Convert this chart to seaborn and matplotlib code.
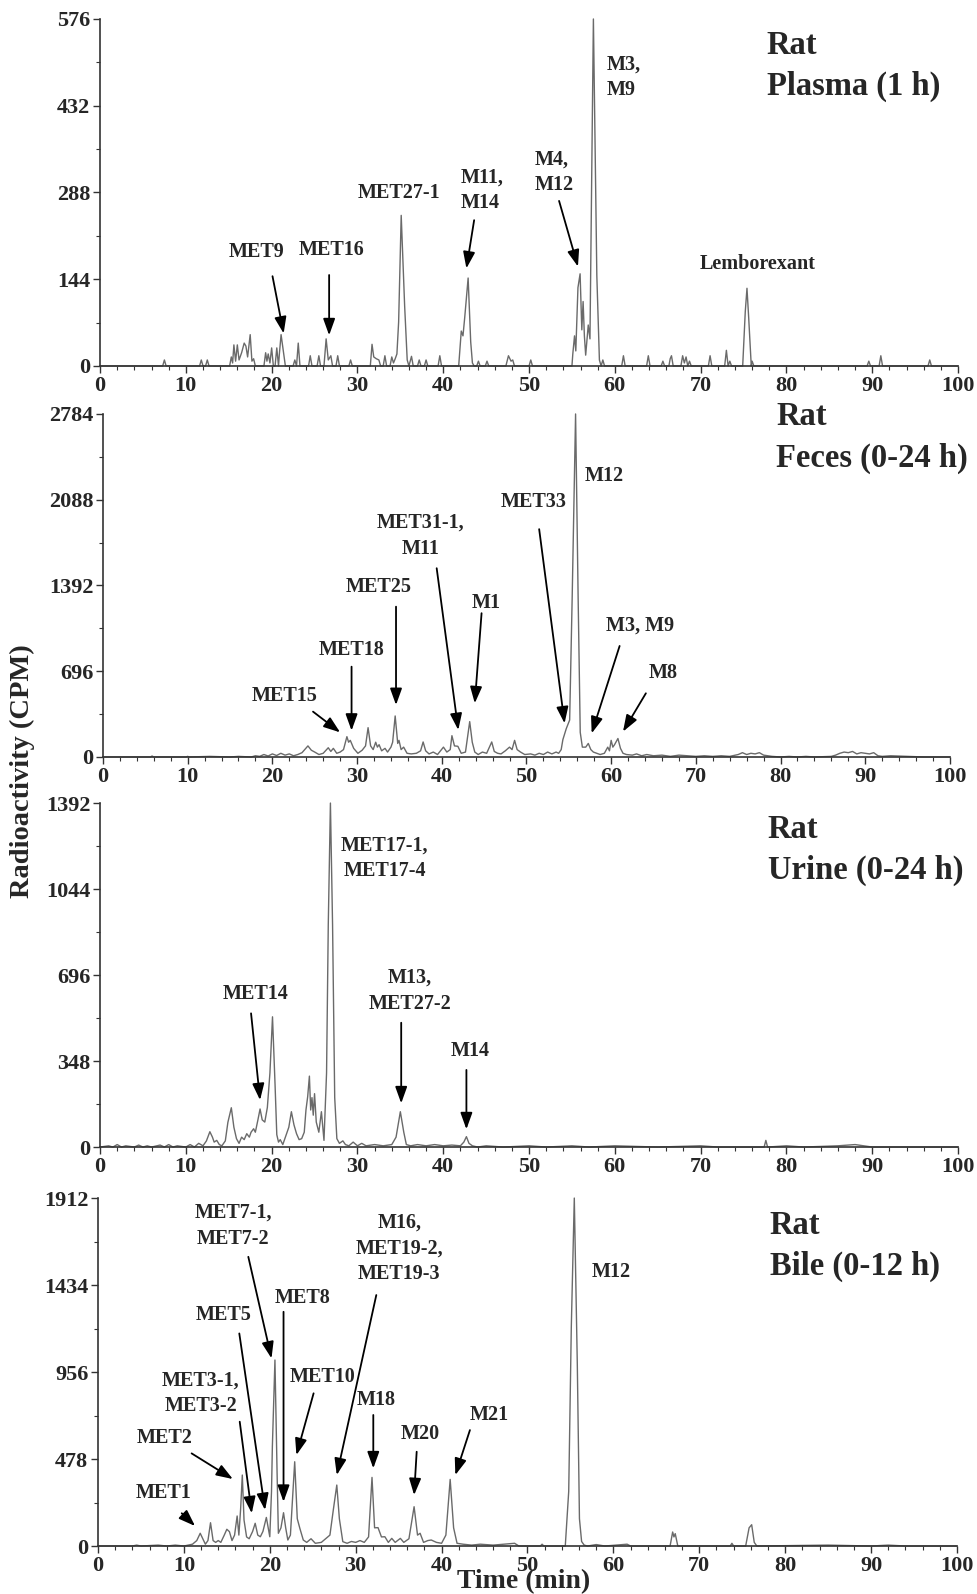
import pandas as pd
import matplotlib.pyplot as plt
import seaborn as sns
from matplotlib.ticker import MultipleLocator

# radiochromatogram traces: (time in min, radioactivity in CPM)
plasma_trace = [
    (0, 0), (7.3, 0), (7.5, 10), (7.7, 0), (11.6, 0), (11.8, 10), (12.0, 0), (12.3, 0), (12.5, 10), (12.7, 0),
    (15.1, 0), (15.3, 15), (15.45, 5), (15.6, 35), (15.8, 8), (16.0, 35), (16.2, 10), (16.5, 22), (16.8, 38),
    (17.0, 33), (17.2, 15), (17.5, 52), (17.7, 8), (17.9, 12), (18.1, 0),
    (19.1, 0), (19.3, 22), (19.45, 8), (19.6, 20), (19.8, 5), (20.0, 30), (20.2, 0), (20.4, 0), (20.6, 30),
    (20.8, 0), (20.9, 20), (21.1, 52), (21.4, 20), (21.6, 0),
    (22.5, 0), (22.7, 10), (22.9, 0), (23.1, 38), (23.3, 0),
    (24.3, 0), (24.5, 17), (24.7, 0), (25.3, 0), (25.5, 17), (25.7, 0), (26.1, 0), (26.35, 45), (26.6, 10),
    (26.9, 17), (27.1, 0), (27.5, 0), (27.7, 17), (27.9, 0), (29.0, 0), (29.2, 10), (29.4, 0),
    (31.5, 0), (31.7, 36), (31.9, 15), (32.2, 12), (32.5, 10), (32.7, 0), (33.0, 0), (33.2, 17), (33.4, 0),
    (33.8, 0), (34.0, 15), (34.2, 5), (34.4, 12), (34.6, 20), (34.8, 73), (35.1, 250), (35.5, 100), (35.8, 10),
    (36.0, 0), (36.3, 16), (36.5, 0), (37.0, 0), (37.2, 10), (37.4, 0), (37.8, 0), (38.0, 10), (38.2, 0),
    (39.4, 0), (39.6, 17), (39.8, 0),
    (41.8, 0), (42.1, 58), (42.3, 50), (42.5, 80), (42.9, 146), (43.2, 40), (43.4, 5), (43.6, 0),
    (43.9, 0), (44.1, 8), (44.3, 0), (44.9, 0), (45.1, 8), (45.3, 0), (47.3, 0), (47.6, 17), (47.9, 8),
    (48.1, 10), (48.3, 0), (50.0, 0), (50.2, 10), (50.4, 0),
    (55.0, 0), (55.1, 20), (55.3, 50), (55.45, 25), (55.7, 130), (55.95, 153), (56.15, 60), (56.3, 107),
    (56.45, 50), (56.6, 18), (56.8, 50), (56.9, 68), (57.1, 45), (57.5, 576), (57.9, 150), (58.2, 10),
    (58.4, 0), (58.6, 10), (58.8, 0),
    (60.8, 0), (61.0, 17), (61.2, 0), (63.7, 0), (63.9, 17), (64.1, 0), (65.4, 0), (65.6, 8), (65.8, 0),
    (66.3, 0), (66.45, 12), (66.6, 17), (66.8, 0), (67.7, 0), (67.9, 17), (68.1, 5), (68.3, 15), (68.5, 0),
    (68.7, 8), (68.9, 0), (70.9, 0), (71.1, 17), (71.3, 0), (72.8, 0), (73.0, 26), (73.2, 0), (73.4, 8),
    (73.6, 0), (74.9, 0), (75.2, 90), (75.4, 129), (75.6, 80), (75.9, 0), (76.0, 8), (76.2, 0),
    (89.4, 0), (89.6, 8), (89.8, 0), (90.8, 0), (91.0, 17), (91.2, 0), (96.5, 0), (96.7, 10), (96.9, 0), (100, 0),
]

feces_trace = [
    (0, 0), (5.6, 0), (5.8, 8), (6.0, 0), (9.8, 0), (10, 5), (10.2, 0), (12.6, 5), (15, 0), (16, 5), (17.5, 0),
    (18, 10), (18.5, 5), (19, 20), (19.5, 8), (20, 25), (20.5, 12), (21, 30), (21.5, 15), (22, 25), (22.5, 10),
    (23, 20), (23.5, 35), (24.2, 90), (24.6, 55), (25, 40), (25.5, 20), (26, 30), (26.6, 75), (26.9, 45),
    (27.2, 70), (27.6, 30), (28, 40), (28.4, 60), (28.8, 165), (29.0, 120), (29.2, 135), (29.6, 70), (30.1, 30),
    (30.6, 55), (31.0, 90), (31.3, 238), (31.6, 90), (31.9, 60), (32.2, 120), (32.4, 80), (32.6, 100),
    (32.9, 50), (33.3, 70), (33.6, 40), (34.0, 80), (34.2, 120), (34.5, 333), (34.8, 110), (34.95, 135),
    (35.2, 60), (35.5, 80), (35.9, 30), (36.4, 25), (37, 30), (37.5, 50), (37.8, 122), (38.1, 50), (38.5, 25),
    (39, 40), (39.5, 20), (40.2, 80), (40.6, 40), (41.0, 60), (41.2, 173), (41.5, 90), (41.9, 87), (42.3, 30),
    (42.8, 40), (43.3, 287), (43.6, 120), (43.9, 40), (44.3, 20), (44.8, 40), (45.3, 30), (45.9, 122),
    (46.2, 45), (46.6, 30), (47, 25), (47.5, 50), (48.0, 80), (48.3, 60), (48.6, 135), (48.9, 60), (49.3, 40),
    (49.8, 20), (50.5, 25), (51, 15), (51.5, 30), (52, 20), (52.5, 40), (53, 25), (53.5, 40), (53.8, 30),
    (54.1, 60), (54.3, 141), (54.7, 230), (55.1, 300), (55.4, 1300), (55.8, 2784), (56.1, 1300), (56.35, 200),
    (56.6, 80), (57.0, 80), (57.3, 110), (57.6, 60), (57.9, 40), (58.3, 30), (58.7, 20), (59.2, 30),
    (59.6, 80), (59.8, 50), (60.0, 135), (60.2, 80), (60.4, 100), (60.8, 150), (61.1, 70), (61.4, 30),
    (61.8, 20), (62.5, 15), (63, 25), (63.6, 10), (64.2, 20), (65, 10), (66, 15), (67, 5), (68, 15), (69, 10),
    (70, 5), (71, 10), (72, 5), (73, 10), (74, 5), (75, 20), (75.5, 35), (76, 20), (76.5, 30), (77, 25),
    (77.5, 35), (78, 15), (79, 5), (80, 0), (81, 5), (82, 0), (83, 5), (84, 0), (86, 5), (86.5, 15), (87, 30),
    (87.5, 40), (88, 35), (88.5, 45), (89, 25), (89.5, 35), (90, 30), (90.5, 25), (91, 35), (91.5, 10),
    (92, 5), (93, 10), (95, 5), (97, 0), (100, 0),
]

urine_trace = [
    (0, 0), (1, 5), (1.5, 0), (2, 10), (2.5, 0), (3, 5), (4, 0), (4.5, 8), (5, 0), (5.5, 5), (6, 0), (7, 8),
    (7.5, 0), (8, 10), (8.5, 0), (9, 5), (10, 0), (10.5, 10), (11, 0), (11.5, 15), (12, 5), (12.4, 25),
    (12.8, 62), (13.1, 40), (13.3, 20), (13.6, 27), (13.9, 10), (14.2, 5), (14.6, 25), (14.9, 100), (15.3, 159),
    (15.6, 80), (15.9, 34), (16.2, 15), (16.5, 40), (16.8, 30), (17.1, 54), (17.4, 40), (17.6, 60), (17.9, 74),
    (18.1, 60), (18.4, 110), (18.65, 154), (18.9, 110), (19.2, 101), (19.5, 160), (19.8, 300), (20.1, 527),
    (20.4, 250), (20.6, 50), (20.8, 20), (21.0, 30), (21.3, 10), (21.6, 40), (22.0, 80), (22.3, 143),
    (22.6, 90), (22.9, 54), (23.2, 30), (23.5, 34), (23.8, 60), (24.0, 150), (24.2, 204), (24.4, 287),
    (24.55, 150), (24.7, 200), (24.85, 129), (25.0, 216), (25.2, 101), (25.5, 60), (25.8, 143), (26.1, 27),
    (26.4, 300), (26.6, 900), (26.85, 1392), (27.1, 900), (27.35, 200), (27.6, 34), (27.9, 15), (28.3, 25),
    (28.6, 10), (29, 5), (29.5, 20), (30, 5), (30.5, 15), (31, 5), (32, 10), (33, 5), (34, 10), (34.5, 40),
    (35.0, 143), (35.4, 60), (35.7, 10), (36.2, 5), (37, 10), (38, 5), (39, 10), (40, 5), (41, 8), (42, 5),
    (42.4, 20), (42.7, 42), (43.0, 15), (43.4, 5), (44, 0), (45, 5), (47, 0), (50, 5), (52, 0), (55, 5),
    (57, 0), (60, 5), (65, 0), (70, 5), (72, 0), (77.4, 0), (77.6, 27), (77.8, 0), (80, 5), (82, 0), (86, 5),
    (88, 10), (90, 0), (100, 0),
]

bile_trace = [
    (0, 0), (4, 0), (4.5, 5), (5, 0), (7, 5), (8, 0), (9, 5), (10, 0), (11, 10), (11.5, 30), (11.9, 70),
    (12.2, 40), (12.5, 10), (12.8, 30), (13.1, 128), (13.4, 30), (13.7, 20), (14.0, 30), (14.3, 20), (14.7, 60),
    (15.0, 92), (15.3, 79), (15.6, 30), (15.9, 60), (16.2, 165), (16.4, 60), (16.6, 200), (16.8, 390),
    (17.0, 143), (17.3, 50), (17.6, 40), (18.0, 80), (18.3, 125), (18.6, 60), (18.9, 51), (19.2, 80),
    (19.6, 157), (20.0, 51), (20.2, 300), (20.3, 546), (20.6, 1022), (20.85, 400), (21.0, 70), (21.3, 100),
    (21.6, 183), (21.85, 100), (22.1, 33), (22.4, 60), (22.9, 463), (23.2, 150), (23.5, 97), (23.9, 33),
    (24.3, 20), (24.8, 40), (25.3, 15), (26, 20), (26.5, 40), (27.0, 60), (27.4, 200), (27.8, 335),
    (28.1, 150), (28.5, 24), (29, 15), (29.5, 25), (30, 20), (30.5, 30), (31, 20), (31.5, 50), (31.9, 377),
    (32.2, 100), (32.6, 101), (33.0, 50), (33.4, 51), (33.8, 20), (34.2, 42), (34.6, 20), (35.2, 42),
    (35.6, 20), (36.2, 40), (36.8, 216), (37.2, 60), (37.5, 70), (37.9, 20), (38.4, 30), (38.8, 33),
    (39.4, 20), (40, 15), (40.5, 60), (41.0, 366), (41.4, 100), (41.8, 15), (42.5, 10), (43.5, 5), (44.5, 10),
    (46, 5), (48.5, 15), (49, 0), (51.5, 0), (51.7, 10), (51.9, 0), (54.4, 0), (54.8, 300), (55.1, 1200),
    (55.45, 1912), (55.8, 1000), (56.05, 150), (56.3, 25), (56.6, 5), (57, 0), (58, 8), (59, 0), (61.6, 10),
    (62, 0), (66.6, 0), (66.9, 77), (67.05, 50), (67.2, 68), (67.5, 0), (73.6, 0), (73.8, 15), (74, 0),
    (75.4, 0), (75.8, 100), (76.1, 117), (76.4, 20), (76.7, 0), (85, 5), (90, 0), (92, 5), (94, 0), (100, 0),
]

y_max = [576, 2784, 1392, 1912]
panel_titles = ["Rat\nPlasma (1 h)", "Rat\nFeces (0-24 h)", "Rat\nUrine (0-24 h)", "Rat\nBile (0-12 h)"]

# peak labels: (text, time, cpm, alignment)
plasma_labels = [("MET9", 18.2, 189, "center"), ("MET16", 27.0, 193, "center"),
                 ("MET27-1", 34.9, 287, "center"), ("M11,\nM14", 42.0, 292, "left"),
                 ("M4,\nM12", 50.7, 321, "left"), ("M3,\nM9", 59.05, 479, "left"),
                 ("Lemborexant", 76.6, 170, "center")]
feces_labels = [("M12", 56.9, 2282, "left"), ("MET33", 50.8, 2073, "center"),
                ("M3, M9", 63.4, 1064, "center"), ("M8", 66.1, 685, "center"),
                ("MET31-1,\nM11", 37.5, 1796, "center"), ("M1", 45.2, 1250, "center"),
                ("MET25", 32.5, 1383, "center"), ("MET18", 29.4, 869, "center"),
                ("MET15", 21.5, 495, "center")]
urine_labels = [("MET17-1,\nMET17-4", 33.2, 1168, "center"), ("MET14", 18.1, 618, "center"),
                ("M13,\nMET27-2", 36.1, 632, "center"), ("M14", 43.1, 388, "center")]
bile_labels = [("M12", 57.5, 1507, "left"), ("M21", 45.6, 720, "center"), ("M20", 37.5, 615, "center"),
               ("M18", 32.4, 802, "center"), ("M16,\nMET19-2,\nMET19-3", 35.1, 1636, "center"),
               ("MET10", 26.2, 930, "center"), ("MET8", 23.8, 1361, "center"), ("MET5", 14.6, 1269, "center"),
               ("MET7-1,\nMET7-2", 15.75, 1759, "center"), ("MET3-1,\nMET3-2", 11.95, 839, "center"),
               ("MET2", 7.8, 592, "center"), ("MET1", 7.6, 289, "center")]

# arrows: (tail, head)
plasma_arrows = [((20.1, 149), (21.4, 54)), ((26.7, 151), (26.7, 51)), ((43.6, 242), (42.7, 162)),
                 ((53.5, 274), (55.7, 165))]
feces_arrows = [((51.5, 1849), (54.5, 273)), ((61.0, 901), (57.7, 192)), ((64.1, 517), (61.4, 206)),
                ((39.4, 1532), (41.95, 219)), ((44.7, 1167), (43.9, 436)), ((34.6, 1220), (34.6, 422)),
                ((29.35, 733), (29.35, 214)), ((24.8, 368), (28.0, 200))]
urine_arrows = [((17.6, 541), (18.65, 190)), ((35.1, 503), (35.1, 177)), ((42.7, 312), (42.7, 72))]
bile_arrows = [((43.3, 637), (41.6, 390)), ((37.1, 518), (36.8, 280)), ((32.05, 720), (32.05, 427)),
               ((32.4, 1379), (27.8, 390)), ((25.1, 839), (23.1, 500)), ((21.6, 1287), (21.6, 243)),
               ((16.45, 1168), (19.45, 198)), ((17.5, 1589), (20.2, 1031)), ((16.5, 683), (17.9, 180)),
               ((10.9, 509), (15.7, 368)), ((9.75, 180), (11.3, 110))]

title_pos = [(77.7, 498), (79.5, 2594), (77.8, 1202), (78.2, 1649)]

sns.set_style("ticks")
plt.rcParams["font.family"] = ["Liberation Serif", "DejaVu Serif"]
plt.rcParams["font.weight"] = "bold"

fig = plt.figure(figsize=(9.77, 15.94), dpi=100)
rects = [[0.1024, 0.7704, 0.8782, 0.2177],
         [0.1054, 0.5251, 0.8669, 0.2152],
         [0.1024, 0.2804, 0.8782, 0.2158],
         [0.1003, 0.0301, 0.8792, 0.2183]]

traces = [plasma_trace, feces_trace, urine_trace, bile_trace]
labels = [plasma_labels, feces_labels, urine_labels, bile_labels]
arrows = [plasma_arrows, feces_arrows, urine_arrows, bile_arrows]

for i in range(4):
    ax = fig.add_axes(rects[i])
    df = pd.DataFrame(traces[i], columns=["time", "cpm"])
    sns.lineplot(data=df, x="time", y="cpm", ax=ax, estimator=None, sort=False,
                 color="#6a6a6a", lw=1.0, clip_on=False)

    ax.set_xlim(0, 100)
    ax.set_ylim(0, y_max[i])
    ax.xaxis.set_major_locator(MultipleLocator(10))
    ax.xaxis.set_minor_locator(MultipleLocator(2))
    ax.yaxis.set_minor_locator(MultipleLocator(y_max[i] / 8))
    ax.set_yticks([0, y_max[i] // 4, y_max[i] // 2, 3 * y_max[i] // 4, y_max[i]])
    ax.tick_params(which="major", direction="out", length=5, width=1, labelsize=16, pad=2, color="#333333")
    ax.tick_params(which="minor", direction="out", length=3, width=0.8, color="#333333")
    for s in ["top", "right"]:
        ax.spines[s].set_visible(False)
    for s in ["left", "bottom"]:
        ax.spines[s].set_color("#333333")
        ax.spines[s].set_linewidth(1.2)
    ax.set_xlabel("")
    ax.set_ylabel("")

    tx, ty = title_pos[i]
    ax.text(tx, ty, panel_titles[i], fontsize=23.5, ha="left", va="center", linespacing=1.43)

    for text, x, y, ha in labels[i]:
        ax.text(x, y, text, fontsize=14.5, ha=ha, va="center", multialignment=ha, linespacing=1.38)

    for tail, head in arrows[i]:
        ax.annotate("", xy=head, xytext=tail,
                    arrowprops=dict(arrowstyle="-|>,head_length=0.5,head_width=0.18", color="black",
                                    lw=1.3, mutation_scale=20, shrinkA=0, shrinkB=0))

fig.text(22 / 977, 1 - 771 / 1594, "Radioactivity (CPM)", rotation=90, fontsize=20.5,
         ha="center", va="center")
fig.text(524 / 977, 1 - 1582 / 1594, "Time (min)", fontsize=20, ha="center", va="center")

plt.savefig("out.png", dpi=100)
